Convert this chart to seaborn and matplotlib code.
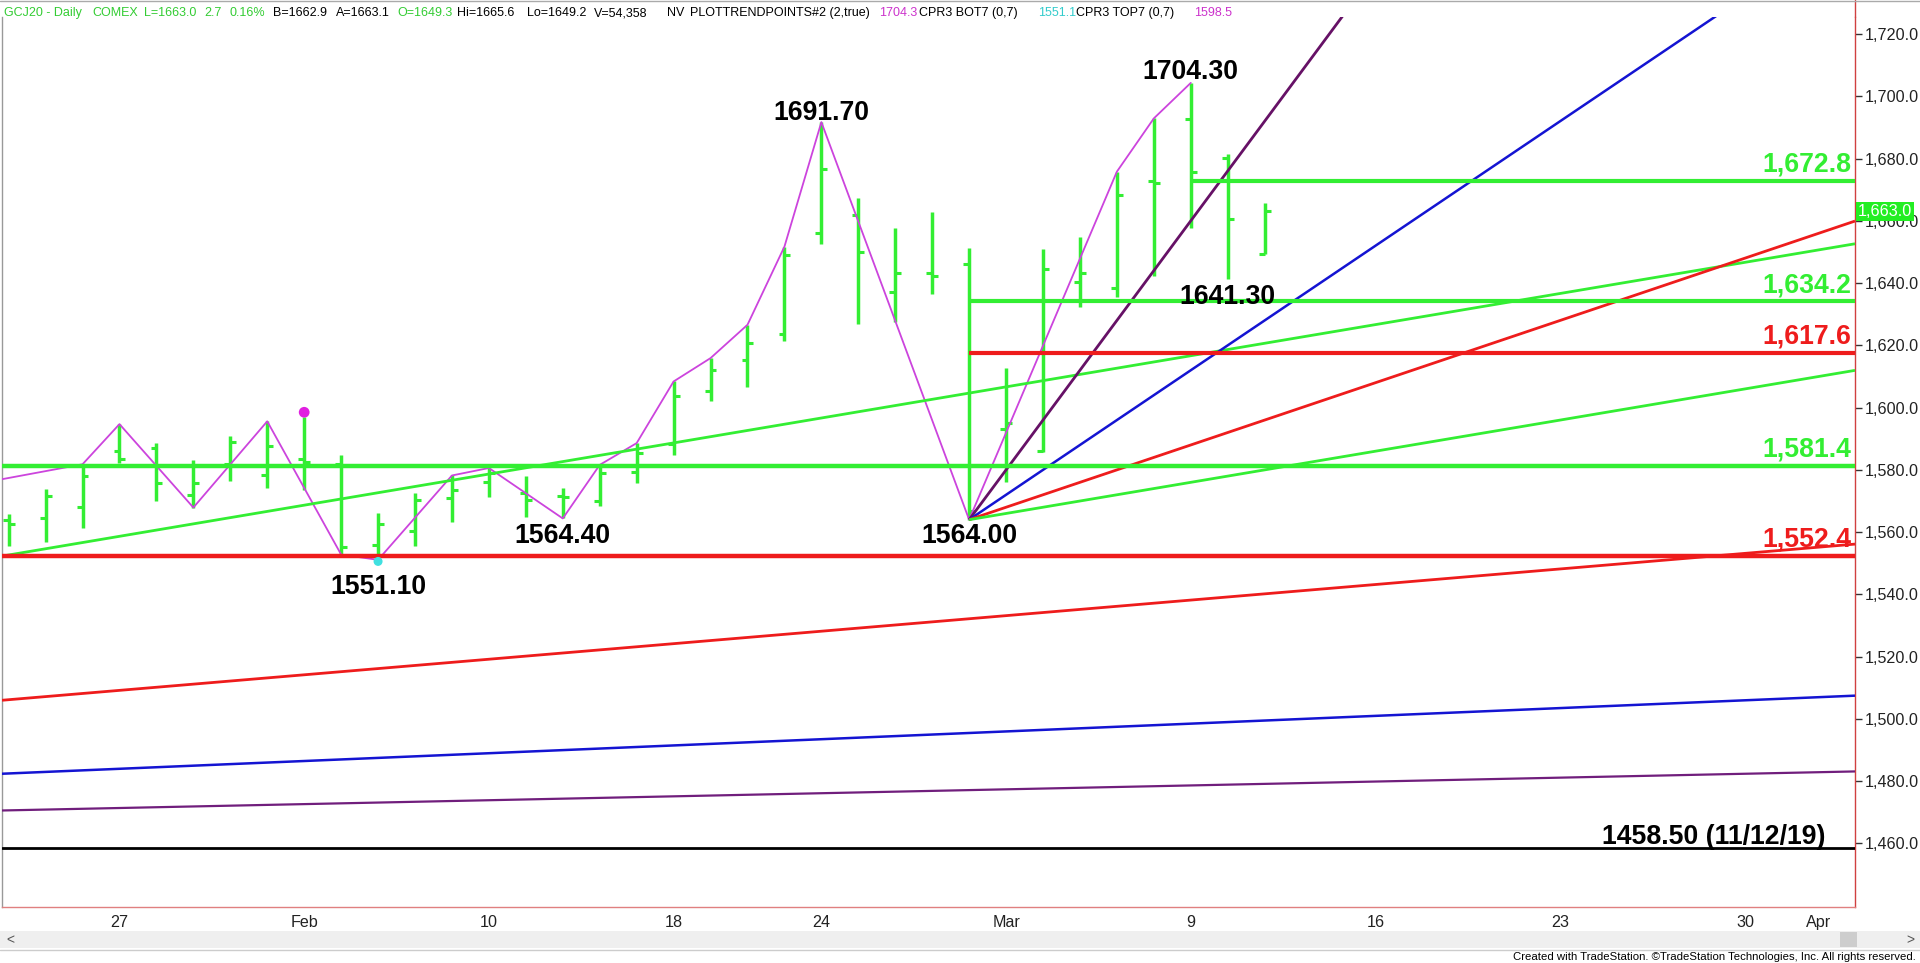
import numpy as np
import pandas as pd
import matplotlib
matplotlib.use("Agg")
import matplotlib.pyplot as plt
import seaborn as sns
from matplotlib import font_manager
from matplotlib.patches import Rectangle
from matplotlib.lines import Line2D
import matplotlib.ticker as mticker

# ---------------- data ----------------
day_index = list(range(35))
bar_open = [1563.8, 1564.6, 1568.2, 1586.1, 1586.9, 1571.8, 1582.0, 1578.4, 1583.5, 1582.0,
            1556.0, 1560.4, 1570.9, 1576.2, 1572.7, 1571.5, 1570.0, 1579.3, 1588.4, 1605.2,
            1615.4, 1623.5, 1656.0, 1661.9, 1637.2, 1643.1, 1646.0, 1593.1, 1586.0, 1640.2,
            1638.3, 1672.9, 1692.6, 1680.1, 1649.3]
bar_high = [1565.7, 1573.8, 1581.8, 1594.7, 1588.6, 1583.1, 1591.0, 1595.6, 1596.9, 1584.8,
            1566.3, 1572.7, 1578.2, 1580.6, 1577.9, 1574.1, 1581.6, 1588.6, 1608.4, 1615.9,
            1626.6, 1651.7, 1691.7, 1667.2, 1657.6, 1662.7, 1651.4, 1612.6, 1650.9, 1654.7,
            1675.8, 1692.9, 1704.3, 1681.5, 1665.6]
bar_low = [1555.7, 1556.9, 1561.4, 1582.2, 1570.0, 1567.9, 1576.5, 1574.3, 1573.6, 1552.8,
           1551.1, 1555.7, 1563.1, 1571.2, 1565.0, 1564.4, 1568.5, 1575.7, 1584.7, 1602.0,
           1606.6, 1621.4, 1652.4, 1626.8, 1627.6, 1636.4, 1564.0, 1576.2, 1585.8, 1632.4,
           1635.4, 1642.3, 1657.6, 1641.3, 1649.2]
bar_close = [1562.5, 1571.6, 1578.1, 1583.4, 1575.7, 1575.9, 1589.0, 1587.7, 1582.4, 1555.2,
             1562.5, 1570.4, 1573.6, 1579.0, 1570.4, 1571.2, 1579.0, 1585.4, 1603.8, 1612.1,
             1620.9, 1649.0, 1676.5, 1650.1, 1643.1, 1642.4, 1566.7, 1594.9, 1644.4, 1643.1,
             1668.2, 1672.2, 1675.8, 1660.5, 1663.0]

xtick_pos = [3, 8, 13, 18, 22, 27, 32, 37, 42, 47, 49]
xtick_labels = ["27", "Feb", "10", "18", "24", "Mar", "9", "16", "23", "30", "Apr"]
ytick_values = list(range(1460, 1721, 20))

# swing (trend point) zig-zag
swing_x = [-1, 2, 3, 5, 7, 9, 10, 12, 13, 15, 16, 17, 18, 19, 20, 21, 22, 26, 30, 31, 32]
swing_y = [1575.2, 1581.8, 1594.7, 1567.9, 1595.6, 1552.8, 1551.1, 1578.2, 1580.6, 1564.4,
           1581.6, 1588.6, 1608.4, 1615.9, 1626.6, 1651.7, 1691.7, 1564.0, 1675.8, 1692.9, 1704.3]

# horizontal support / resistance levels
level_values = [1672.8, 1634.2, 1617.6, 1581.4, 1552.4]
level_start = [32, 26, 26, None, None]
level_labels = ["1,672.8", "1,634.2", "1,617.6", "1,581.4", "1,552.4"]
level_kind = ["g", "g", "r", "g", "r"]

old_low_value = 1458.5
old_low_label = "1458.50 (11/12/19)"

# angle fan from the 1564.00 low
fan_origin = (26, 1564.0)
fan_slopes = [16, 8, 4, 2]
fan_kind = ["p", "b", "r", "g"]

# long angle lines entering from the left edge
long_start_price = [1552.3, 1506.0, 1482.4, 1470.6]
long_slopes = [2.0, 1.0, 0.5, 0.25]
long_kind = ["g", "r", "b", "p2"]

# swing annotations
swing_labels = ["1704.30", "1691.70", "1641.30", "1564.00", "1564.40", "1551.10"]
swing_label_x = [32, 22, 33, 26, 15, 10]
swing_label_y = [1705.6, 1692.4, 1633.4, 1556.4, 1556.4, 1540.0]

cpr_top = (8, 1598.5)
cpr_bot = (10, 1550.6)

# ---------------- style ----------------
sns.set_theme(style="white")
plt.rcParams['font.family'] = ['Liberation Sans', 'DejaVu Sans']

names = {f.name for f in font_manager.fontManager.ttflist}
has_narrow = 'Liberation Sans Narrow' in names
narrow = 'Liberation Sans Narrow' if has_narrow else 'Liberation Sans'
hdr_size = 10.8 if has_narrow else 9.0
axis_size = 13.6 if has_narrow else 11.6

C = {"g": "#33EE33", "r": "#EE1C1C", "b": "#1414D2", "p": "#661166", "p2": "#701E7C",
     "mag": "#CC44DD", "k": "#000000"}
LW = {"g": 2.0, "r": 2.0, "b": 1.8, "p": 2.0, "p2": 1.6}

W, H = 1920, 963
fig = plt.figure(figsize=(W / 100, H / 100), dpi=100)
fig.patch.set_facecolor("white")

ax_left, ax_right, ax_top, ax_bottom = 2, 1855, 17, 907
ax = fig.add_axes([ax_left / W, 1 - ax_bottom / H, (ax_right - ax_left) / W, (ax_bottom - ax_top) / H])
ax.set_facecolor("white")

x0, x1 = -0.18, 49.98
y_top = 1720 + (34 - ax_top) / 3.1134
y_bot = 1720 - (ax_bottom - 34) / 3.1134
ax.set_xlim(x0, x1)
ax.set_ylim(y_bot, y_top)

# ---------------- OHLC bars ----------------
df = pd.DataFrame({"x": day_index, "o": bar_open, "h": bar_high, "l": bar_low, "c": bar_close})
tw = 0.16
ax.vlines(df["x"], df["l"], df["h"], color=C["g"], lw=2.5, zorder=2)
ax.hlines(df["o"], df["x"] - tw, df["x"], color=C["g"], lw=2.2, zorder=2)
ax.hlines(df["c"], df["x"], df["x"] + tw, color=C["g"], lw=2.2, zorder=2)

# ---------------- zig-zag ----------------
sns.lineplot(x=swing_x, y=swing_y, sort=False, estimator=None, color=C["mag"], lw=1.3, ax=ax, zorder=3)

# ---------------- long angle lines ----------------
for p0, s, k in zip(long_start_price, long_slopes, long_kind):
    ax.plot([x0, x1], [p0, p0 + s * (x1 - x0)], color=C[k], lw=LW[k], zorder=4, solid_capstyle="butt")

# ---------------- fan ----------------
fx, fy = fan_origin
for s, k in zip(fan_slopes, fan_kind):
    ax.plot([fx, x1], [fy, fy + s * (x1 - fx)], color=C[k], lw=LW[k], zorder=4, solid_capstyle="butt")

# ---------------- horizontal levels ----------------
for v, st, lab, k in zip(level_values, level_start, level_labels, level_kind):
    xs = x0 if st is None else st
    lw = 3.2 if st is None else 3.0
    ax.plot([xs, x1], [v, v], color=C[k], lw=lw, zorder=5, solid_capstyle="butt")
    ax.text(49.88, v + 2.9, lab, color=C[k], fontsize=19.2, fontweight="bold",
            ha="right", va="baseline", zorder=7)

ax.plot([x0, x1], [old_low_value, old_low_value], color=C["k"], lw=2.0, zorder=5)
ax.text(49.17, old_low_value + 1.2, old_low_label, color="black", fontsize=19.2, fontweight="bold",
        ha="right", va="baseline", zorder=7)

# ---------------- swing labels ----------------
for t, xx, yy in zip(swing_labels, swing_label_x, swing_label_y):
    ax.text(xx, yy, t, color="black", fontsize=19.2, fontweight="bold", ha="center", va="baseline", zorder=7)

# CPR markers
ax.scatter([cpr_top[0]], [cpr_top[1]], s=60, color="#E020E0", zorder=6, edgecolor="none")
ax.scatter([cpr_bot[0]], [cpr_bot[1]], s=42, color="#40E0E0", zorder=6, edgecolor="none")

# ---------------- axes styling ----------------
ax.yaxis.tick_right()
ax.set_yticks(ytick_values)
ax.yaxis.set_major_formatter(mticker.FuncFormatter(lambda v, p: f"{v:,.1f}"))
ax.tick_params(axis="y", which="major", direction="out", length=5, width=1, color="#333333",
               labelsize=axis_size, labelcolor="#222222", pad=2, right=True, left=False)
for lbl in ax.get_yticklabels():
    lbl.set_family([narrow, "DejaVu Sans"])
ax.set_xticks(xtick_pos)
ax.set_xticklabels(xtick_labels)
ax.tick_params(axis="x", length=0, pad=6, labelsize=axis_size, labelcolor="#222222")
for lbl in ax.get_xticklabels():
    lbl.set_family([narrow, "DejaVu Sans"])
ax.grid(False)
ax.spines["top"].set_visible(False)
ax.spines["left"].set_color("#999999")
ax.spines["left"].set_linewidth(1.0)
ax.spines["right"].set_color("#D04040")
ax.spines["right"].set_linewidth(1.0)
ax.spines["bottom"].set_color("#E08080")
ax.spines["bottom"].set_linewidth(1.0)
ax.set_xlabel("")
ax.set_ylabel("")

# red axis line continuing into header area
fig.add_artist(Line2D([ax_right / W, ax_right / W], [1 - ax_top / H, 1.0], color="#D04040", lw=1.0))
fig.add_artist(Line2D([0, 1], [1 - 1 / H, 1 - 1 / H], color="#AAAAAA", lw=1.0))

# last price box
last_close = bar_close[-1]
ax.annotate(f"{last_close:,.1f}", xy=(1, last_close), xycoords=("axes fraction", "data"),
            xytext=(2.0, 0), textcoords="offset points", ha="left", va="center",
            color="white", fontsize=axis_size, family=[narrow, "DejaVu Sans"],
            bbox=dict(boxstyle="square,pad=0.14", fc="#22EE22", ec="none"), zorder=10, annotation_clip=False)

# ---------------- header ----------------
header = [
    (4, "GCJ20 - Daily", "#33CC33"), (92, "COMEX", "#33CC33"), (144, "L=1663.0", "#33CC33"),
    (204, "2.7", "#33CC33"), (229, "0.16%", "#33CC33"), (273, "B=1662.9", "black"),
    (336, "A=1663.1", "black"), (397, "O=1649.3", "#33CC33"), (457, "Hi=1665.6", "black"),
    (527, "Lo=1649.2", "black"), (594, "V=54,358", "black"), (667, "NV", "black"),
    (690, "PLOTTRENDPOINTS#2 (2,true)", "black"), (879, "1704.3", "#CC33CC"),
    (919, "CPR3 BOT7 (0,7)", "black"), (1038, "1551.1", "#33CCCC"),
    (1076, "CPR3 TOP7 (0,7)", "black"), (1194, "1598.5", "#CC33CC"),
]
for xp, t, col in header:
    fig.text(xp / W, 1 - 16 / H, t, color=col, fontsize=hdr_size, ha="left", va="baseline",
             family=[narrow, "DejaVu Sans"])

# ---------------- scrollbar & footer ----------------
fig.patches.append(Rectangle((0, 1 - 948 / H), 1, 17 / H, transform=fig.transFigure,
                             facecolor="#EFEFEF", edgecolor="none"))
fig.patches.append(Rectangle((1840 / W, 1 - 947 / H), 17 / W, 15 / H, transform=fig.transFigure,
                             facecolor="#CDCDCD", edgecolor="none"))
fig.text(6 / W, 1 - 940 / H, "<", fontsize=10, color="#555555", ha="left", va="center")
fig.text(1906 / W, 1 - 940 / H, ">", fontsize=10, color="#555555", ha="left", va="center")
fig.add_artist(Line2D([0, 1], [1 - 950 / H, 1 - 950 / H], color="#CCCCCC", lw=1.0))
fig.text(1916 / W, 1 - 957 / H,
         "Created with TradeStation. \u00a9TradeStation Technologies, Inc. All rights reserved.",
         fontsize=8.2, color="black", ha="right", va="center", family=[narrow, "DejaVu Sans"])

fig.savefig("out.png", dpi=100, facecolor="white")
